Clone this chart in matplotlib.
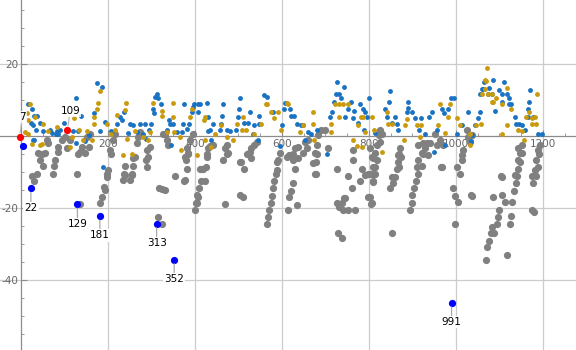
import matplotlib
matplotlib.use("Agg")
import matplotlib.pyplot as plt
from matplotlib.ticker import MultipleLocator

# blue series (x, y)
blue_pts = [
    (17, 8.8), (24.5, 7.4), (30.7, 5.6), (38, 5.6), (23, 3.7), (43.7, 3.7), (28.4, 3.2), (33.7, 1.7),
    (51, 1.5), (66.7, 1.7), (72, 0.9), (79.7, 0.7), (84, 1.4), (89.7, 1.8), (99.5, 3.7), (86, 0.5),
    (126, 10.7), (139, 5.6), (120, 1.3), (131.8, 1.5), (147, -1.4), (126, -1.8), (30, -1.1), (156, 0.3),
    (181.6, 1.3), (176, 14.8), (187, 13.5), (168, 6.5), (194, 4), (206, 1.5), (189, -8.5), (28, -1.1),
    (208.5, 1.2), (220, 3.5), (227.6, 5.4), (236.8, 6.8), (231.5, 4.4), (246.7, 0.9), (258, 3.1), (266, 1.2),
    (273.6, 3.5), (285, 3.5), (295, 1.7), (298, 3.5), (302.8, 7.4), (308, 10.9), (314, 11.7), (315.6, 10.5),
    (321, 8.8), (305.7, 6.5), (281, 0.7), (287, -0.7), (335, 1.7), (341, 4.6), (342.5, 3.3), (344, -2.5),
    (350, 3.5), (358, 1.2), (369.4, 1.2), (374.7, 8.8), (373, 3.5), (387, 3.5), (392.4, 6.8), (396, 8.1),
    (398, 8.8), (406, 8.8), (411.5, 8.8), (407.6, 6.8), (382, 2.1), (430.6, 5.4), (250.6, 3.3),
    (427, 9.1), (465, 8.8), (463, 5.6), (442, 3.5), (461, 3.5), (434.5, 1.7), (429, 1.3), (457.5, 1.7),
    (473, 1.7), (480, 1.3), (493.5, 1.7), (499.5, 5.4), (501, 7.4), (503, 10.7), (513, 3.7), (521, 3.7),
    (526.4, 6.8), (534, 0.7), (536, 3.1), (547, 3.5), (547, 5.6), (559, 11.4), (565, 10.9), (578.6, 6.8),
    (600.7, 3.1), (607, 9.3), (604.6, 7.4), (618, 7.4), (622, 5.6), (628, 5.6), (634, 3.3), (645, 3.1),
    (545.6, -1.1), (595.4, -2.8), (438, -1.1),
    (647.5, 3.1), (668, 0.7), (681, 1.7), (710, 5.4), (714, 6.8), (720, 9.4), (724, 11.7), (726, 14.9),
    (732, 11.7), (735, 10.7), (743, 13.5), (745, 5.2), (752, 7.4), (758, 9.4), (765.5, 7), (764, 4.9),
    (775, 3.7), (779, 8.9), (787, 7.4), (792, 6.8), (800.7, 10.7), (795, 5.4), (788.5, 1.7), (814, 0.9),
    (837, 7.4), (848, 12.6), (847, 9.4), (842, 5.2), (852, 3.7), (864, 3.5), (704, -5), (653, -1.1), (660.5, 1.2),
    (860, 5.4), (890, 9.5), (889, 7.9), (887, 6.8), (900, 6.8), (906, 4.9), (919.5, 4.9), (915, 1.7),
    (929, 0.7), (938.6, 5.4), (944, 6.8), (956, 1.7), (967, 7.5), (973, 6.3), (982, 7.5), (988.5, 10.6),
    (996, 10.6), (1001.6, 0.7), (1013, 3.1), (1028, 6.8), (1037.5, 0.3), (1044, 3.1), (1050, 4.9),
    (1055, 11.6), (1060.5, 13.2), (1065, 15.1), (1074, 11.6), (1086, 15.6), (867, 1.7), (950, -4.5),
    (975, -2.5), (1034.5, -1.4),
    (1063, 13.2), (1077, 13.4), (1082, 11.6), (1100, 12.8), (1110, 15.1), (1107, 11.6), (1117, 11.6),
    (1123, 10.6), (1105, 9.5), (1121, 8.8), (1126, 8.8), (1090, 6.9), (1136, 5.4), (1138, 3.5), (1145.5, 3.5),
    (1151, 3.1), (1166, 7.5), (1168.5, 9.5), (1170, 12.8), (1166, 5.4), (1178, 5.4), (1158.6, 1.7),
    (1189, 0.7), (1197, 0.7), (1055, 6.8),
]

# gold series (x, y)
gold_pts = [
    (20, 8.8), (13, 6.5), (32, 5.4), (17, 4.6), (51, 3.3), (63, 1.5), (82, 2.6), (122.5, 5.1), (47.5, -2.2),
    (24.5, -2.2), (116.5, -0.2), (112.6, -3), (133, 1.7), (151, 1.3), (168.5, 3.5), (169, 5.4), (175, 7.4),
    (178, 9.3), (182, 12.6), (197, 3.5), (208, 0.7), (143, -1.1), (162.5, -1.1), (9, 1.2), (17, 0.7), (43.7, -2.5),
    (221, 5.8), (239, 7.2), (241, 9.3), (243, -0.7), (254.5, -5), (262, 1.4), (281, -0.2), (292.6, -1.1),
    (296.5, 1.2), (304, 9.3), (323.5, 6.9), (323.5, 5.6), (335, 1.2), (350, 9.3), (349, 5.4), (352, 1.2),
    (392.4, 7.6), (388, 5.4), (365.5, -0.2), (367, -3.9), (404, -5.3), (421, 4.6), (235, -5.3), (216, 1.7),
    (423, 5.4), (460, 3.1), (446, 0.7), (473, -0.2), (488, -1.1), (496, 3.5), (508.7, 1.7), (516.5, 1.7),
    (511, 5.4), (553, 3.5), (563, 8.8), (566, 8.8), (574, 6.8), (582, 4.9), (591.5, 6.8), (599, 1.7),
    (610.8, 9.3), (613, 8.8), (641, 1.2), (438, -3), (423, -1.1), (536, 0.7),
    (649, 3.1), (672, 6.8), (670.6, 3.5), (674.3, -1.1), (712, 3.5), (712, 1.2), (722, 8.8), (732, 8.8),
    (741, 8.8), (751, 8.8), (732, 5.4), (764, -1.1), (771.7, -2.8), (775, 3.1), (781.6, 5.4), (786, 5.4),
    (806, 5.4), (791, 1.2), (783, -3), (812, 1.7), (840.6, 6.8), (843, 3.5), (854, 3.5), (829, -4.4),
    (887, 4.7), (883, 3.1), (881, -1.1), (910, 3.1), (919, 3.1), (963, 8.8), (959, 3.1), (981, 5.4),
    (986, 8.8), (1001.6, 4.9), (1009, 3.1), (1032, 0.7), (1032, -2.5), (1046, 3.1), (1057.5, 3.5),
    (1060, 11.6), (1067, 13.2), (1068, 15.3), (1070.5, 18.8), (1083.4, 11.6), (1086, 9.5), (917, -0.2), (975, 1),
    (1067, 15.6), (1074, 11.6), (1092, 10.6), (1084, 9.5), (1117, 13.4), (1107, 8.8), (1126, 7.5), (1118, 3.1),
    (1105, 0.7), (1143, 1.7), (1153, 1.4), (1161, 5.4), (1168.5, 6.8), (1174, 4.9), (1181.6, 5.4), (1174, 3.5),
    (1184, 3.5), (1187, 11.6), (1156, -1.1),
]

# gray series (x, y)
gray_pts = [
    (24.6, -11.1), (36, -10.4), (30.6, -12.4), (39.8, -4.8), (47.6, -5), (55, -4.6), (43.7, -6.7), (50, -8.3),
    (74, -10.4), (76, -8.3), (78, -6.5), (86, -4.4), (128, -10.4), (132, -5), (137, -18.9), (135.6, -4.4),
    (147, -4.8), (181.6, -18.7), (187, -16.9), (193, -15), (191, -14.1), (197, -11.3), (198, -10.4),
    (200.7, -9.4), (207, -5), (204.6, -3.9),
    (62.8, -2), (59, -1.1), (85.7, -3), (93.6, -1.1), (101, -0.2), (112.6, -1.1), (105, -3.4), (139.5, -3),
    (152.4, -0.2), (157, -3), (158.6, 0.7), (212, -1.1), (216, 0.7),
    (235, -12.2), (237, -10.4), (239, -8.3), (256.8, -8.3), (254.5, -10.4), (256.8, -6.2), (250.6, -12.2),
    (286.7, -6.5), (289, -3.9), (315.6, -22.4), (323.5, -24.3), (323.5, -14.8), (331, -15), (318, -14.5),
    (354, -11.1), (377, -12.2), (381, -9), (379, -6.7), (383, -4.6), (404, -18.7), (400, -20.4),
    (407.6, -16.9), (410, -14.5),
    (239, -10.8), (254.5, -10.8), (262, -5.7), (266, -2), (269.7, -0.2), (273.6, 1.2), (289, -8.5),
    (292.6, -5.7), (296.5, -3), (327, 0.7), (331, 0.7), (335, -1.1), (338.6, -2.5), (377, -5.7), (381, -3.4),
    (388.5, -1.1), (396, 0.7),
    (384.6, -5), (374.7, -12.4), (405, -16.4), (402, -18.5), (415, -12.4), (423, -12.4), (415, -9),
    (425, -8.5), (428, -5), (465, -6.5), (473, -5), (469, -18.9), (503, -16.4), (509.7, -17), (507, -7.1),
    (513, -9), (519, -5), (530, -6.2),
    (588, -7.1), (585.5, -10.4), (582, -12.4), (580, -14.5), (577.7, -16.6), (574, -18.5), (571, -20.4),
    (568.5, -22.4), (565, -24.3), (595.4, -4.8), (624.6, -13.1), (622, -15.2), (617, -17), (614.5, -20.4),
    (634, -19), (626, -5), (649, -4.6), (637.5, -6.2), (676, -10.4), (677.5, -7.1), (681, -5),
    (726, -18.5), (737, -18.5), (742.5, -17.1), (741, -20.4), (752, -20.4), (768, -20.4), (729.4, -27),
    (738.6, -28.4), (752, -11.1), (760, -14.5), (779, -12.4), (783, -9), (797, -10.4), (808.5, -10.4),
    (808.5, -12.4), (814, -8.5), (818, -6.5), (798, -17), (804, -18.9), (764, -6.5),
    (802, -16.9), (806, -18.7), (810, -12.7), (848, -14.5), (852, -11.3), (856, -13.1), (864, -9),
    (866, -7.1), (870, -5), (853.5, -27), (894, -20.4), (898, -18.5), (900, -16.4), (903, -14.5),
    (908, -12.4), (912, -10.4), (921, -8.3), (925, -5), (967, -8.5), (994, -14.5), (999, -16.6),
    (1005, -18.4), (998, -24.3), (1001.6, -8.5), (1009, -10.4), (1014.5, -6.5), (1036, -16.6), (1086, -17),
    (1103, -11.1),
    (1069, -34.3), (1072, -30.9), (1076.6, -29.1), (1080, -27), (1087, -27), (1082, -25.2), (1095, -24.3),
    (1097, -22.4), (1100, -20.4), (1112.6, -18.4), (1116.6, -32.9), (1124, -24.3), (1126, -22.2),
    (1130, -18.3), (1133, -15.2), (1137, -13.1), (1139.5, -11.1), (1143, -9), (1147, -7.1), (1152, -4.8),
    (1175, -20.4), (1179, -21), (1177.7, -13.1), (1174, -11.1), (1183, -11.1), (1188, -8.5), (1191.5, -5.1),
    (411, -9), (418.5, -9), (427, -5.7), (430.6, -3.4), (434.5, -2.8), (442, -2.5), (469, -3.4), (473, -2.5),
    (476.5, -4.8), (503, -7.1), (526, -4.4), (530, -3.4), (535.6, -2.5), (542, -1.6), (591.5, -6.7),
    (588, -9.4), (610.8, -5.7), (617, -5.2), (630, -3.4), (637, -2.9), (626, -6.7), (630, -9), (653, -1.6),
    (660.5, -1.1), (657, -3.4), (680, -2.5), (676, -4.8), (672, -7.6), (678, -10.4), (683, 0.3), (691, 1.7),
    (699, 1.7), (706.5, -3.4), (726, -9), (732, -19.6), (745, -17.3), (764, -3.9), (791, -10.8),
    (802, -10.4), (810, -6.2), (814, -4.8), (818, -2.5), (824, 0.3),
    (802, -3.4), (806, -5.7), (810, -8.5), (814, -10.6), (825, 1.7), (829, 0.7), (825, -1.6), (860, -11.3),
    (871, -3.4), (873, -5.7), (870, -8.5), (909.6, -8.5), (913, -6.7), (921, -4.8), (929, -3.4),
    (932.6, -2), (925, -2), (963, -1.1), (956, -2.5), (971, -2.5), (965, -8.5), (1024.6, 1.7), (1028, -0.2),
    (1032, -1.6), (1034, -16.4), (1143, -3.4), (1151, -2.5), (1147, -4.8), (1143, -6.7), (1135.6, -10.8),
    (1189, -3.9), (1193, -2.5), (1185, -6.7), (1181.6, -9.4), (1105, -11.3), (1105, -16.4),
    (867, -5.3), (913, -2.5), (940, -2), (952, 0.7), (936, -5.3), (1013, -5.3), (1017, -3.9), (1036, 0.3),
]

# highlighted points with callout labels
hl_blue = [(5, -2.7), (23, -14.5), (130, -18.9), (181.6, -22.2), (312, -24.3), (352.4, -34.3), (990, -46.3)]
hl_blue_labels = ["", "22", "129", "181", "313", "352", "991"]
hl_red = [(-3, -0.2), (107, 1.7)]
hl_red_labels = ["7", "109"]

fig = plt.figure(figsize=(5.76, 3.5), dpi=100)
ax = fig.add_axes([0, 0, 1, 1])
ax.set_xlim(-48, 1276)
ax.set_ylim(-59.4, 37.8)

for s in ['top', 'right']:
    ax.spines[s].set_visible(False)
ax.spines['left'].set_position(('data', 0))
ax.spines['bottom'].set_position(('data', 0))
for s in ['left', 'bottom']:
    ax.spines[s].set_color('#8c8c8c')
    ax.spines[s].set_linewidth(0.9)

ax.set_xticks([200, 400, 600, 800, 1000, 1200])
ax.set_yticks([-40, -20, 20])
ax.set_yticklabels(['-40', '-20', '20'])
ax.xaxis.set_minor_locator(MultipleLocator(50))
ax.yaxis.set_minor_locator(MultipleLocator(5))
ax.tick_params(which='both', direction='in', colors='#8c8c8c', labelcolor='#666666', labelsize=7.5, pad=2)
ax.tick_params(which='major', length=4, width=0.8)
ax.tick_params(which='minor', length=2.2, width=0.6)
ax.grid(True, which='major', color='#cccccc', linewidth=0.9)
ax.set_axisbelow(True)

ax.plot([p[0] for p in gray_pts], [p[1] for p in gray_pts], 'o', ms=5.2, color='#808080', mec='none', zorder=3)
ax.plot([p[0] for p in blue_pts], [p[1] for p in blue_pts], 'o', ms=3.5, color='#1a73c2', mec='none', zorder=4)
ax.plot([p[0] for p in gold_pts], [p[1] for p in gold_pts], 'o', ms=3.5, color='#c99a0e', mec='none', zorder=4)

for (x, y), lab in zip(hl_blue, hl_blue_labels):
    ax.plot(x, y, 'o', ms=5.2, color='#0000ff', mec='none', zorder=6)
    if lab:
        ax.annotate(lab, (x, y), xytext=(0, -14), textcoords='offset points', ha='center', va='center',
                    fontsize=7.5, color='black', zorder=7,
                    bbox=dict(boxstyle='square,pad=0.1', fc='white', ec='none'),
                    arrowprops=dict(arrowstyle='-', color='#aaaaaa', lw=0.9, shrinkA=0, shrinkB=3))
for (x, y), lab in zip(hl_red, hl_red_labels):
    ax.plot(x, y, 'o', ms=5.2, color='#ff0000', mec='none', zorder=6)
    ax.annotate(lab, (x, y), xytext=(2, 14), textcoords='offset points', ha='center', va='center',
                fontsize=7.5, color='black', zorder=7,
                bbox=dict(boxstyle='square,pad=0.1', fc='white', ec='none', alpha=0.8),
                arrowprops=dict(arrowstyle='-', color='#bbbbbb', lw=0.9, shrinkA=0, shrinkB=3))

fig.savefig('out.png', dpi=100)
